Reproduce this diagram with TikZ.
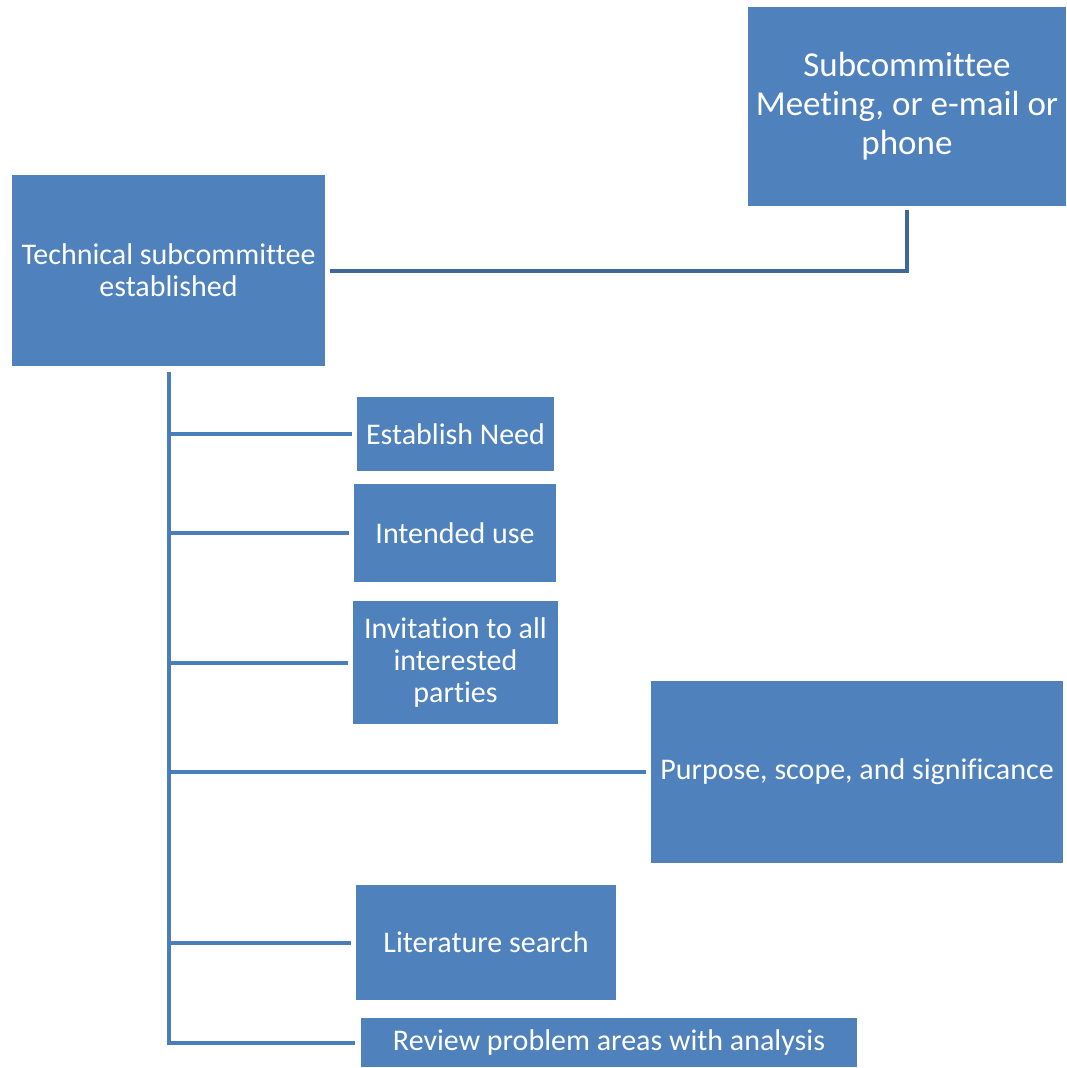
\documentclass[tikz,border=0pt]{standalone}
\usepackage{fontspec}
\setmainfont[Ligatures={NoCommon}]{Carlito}
\definecolor{boxblue}{HTML}{4F81BD}
\definecolor{treeblue}{HTML}{4A7EBB}
\definecolor{darkline}{HTML}{3F6797}
\begin{document}
\begin{tikzpicture}[x=1pt,y=-1pt,
  box/.style={fill=boxblue, draw=none, inner sep=0pt, text=white, align=center,
    font=\fontsize{30}{32}\selectfont},
  treeline/.style={draw=treeblue, line width=4pt},
  topline/.style={draw=darkline, line width=4pt}]
\useasboundingbox (0,0) rectangle (1066,1068);
\node[box, minimum width=318, minimum height=199, font=\fontsize{35}{39}\selectfont] (sub) at (907,106.5) {Subcommittee\\Meeting, or e-mail or\\phone};
\node[box, minimum width=313, minimum height=191] (tech) at (168.5,270.5) {Technical subcommittee\\established};
\node[box, minimum width=197, minimum height=74] (need) at (455.5,434) {Establish Need};
\node[box, minimum width=202, minimum height=98] (use) at (455,533) {Intended use};
\node[box, minimum width=205, minimum height=123] (inv) at (455.5,662.5) {Invitation to all\\interested\\parties};
\node[box, minimum width=412, minimum height=182] (purp) at (857,772) {Purpose, scope, and significance};
\node[box, minimum width=260, minimum height=115] (lit) at (486,942.5) {Literature search};
\node[box, minimum width=496, minimum height=49] (rev) at (609,1042.5) {\raisebox{-3pt}{Review problem areas with analysis}};
\coordinate (top0) at ([xshift=5pt]tech.east);
\coordinate (top1) at ([yshift=-4pt]sub.south);
\draw[topline, line join=miter] (top0) -- (top1 |- top0) -- (top1);
\coordinate (t0) at ([yshift=-6pt]tech.south);
\draw[treeline] (t0) |- ([xshift=-6pt]rev.west);
\draw[treeline] (t0 |- need.west) -- ([xshift=-5pt]need.west);
\draw[treeline] (t0 |- use.west) -- ([xshift=-5pt]use.west);
\draw[treeline] (t0 |- inv.west) -- ([xshift=-5pt]inv.west);
\draw[treeline] (t0 |- purp.west) -- ([xshift=-5pt]purp.west);
\draw[treeline] (t0 |- lit.west) -- ([xshift=-5pt]lit.west);
\end{tikzpicture}
\end{document}
